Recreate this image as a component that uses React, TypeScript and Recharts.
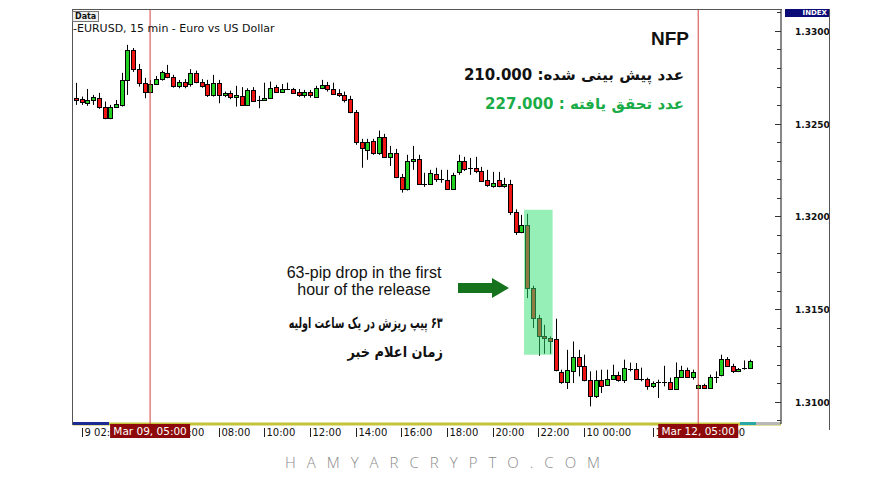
import React from "react";
import { ComposedChart, Bar, XAxis, YAxis, ReferenceLine, ReferenceArea } from "recharts";

// EURUSD 15 min, Mar 09 (NFP) -> Mar 12
const opens = [
  1.32639, 1.32632, 1.32614, 1.32628, 1.32637, 1.32592, 1.32529, 1.32592, 1.32601, 1.32736,
  1.32898, 1.32794, 1.32721, 1.32671, 1.32713, 1.3274, 1.32772, 1.32754, 1.32704, 1.32723,
  1.32713, 1.32775, 1.32723, 1.32714, 1.32655, 1.32721, 1.32653, 1.32664, 1.32646, 1.3265,
  1.32601, 1.32682, 1.32626, 1.32628, 1.3264, 1.327, 1.32673, 1.32687, 1.32689, 1.32673,
  1.32653, 1.32673, 1.32646, 1.32693, 1.32707, 1.32686, 1.32666, 1.32655, 1.32632, 1.32565,
  1.32403, 1.32359, 1.32407, 1.32341, 1.3243, 1.32322, 1.32344, 1.32211, 1.32147, 1.32296,
  1.32307, 1.32175, 1.32175, 1.32231, 1.32201, 1.32197, 1.32148, 1.32237, 1.32296, 1.3226,
  1.3226, 1.32245, 1.32197, 1.32162, 1.32194, 1.32162, 1.32173, 1.32026, 1.31913, 1.31954,
  1.31613, 1.31451, 1.31356, 1.31344, 1.31338, 1.31158, 1.31104, 1.31164, 1.31241, 1.31194,
  1.31119, 1.31032, 1.31119, 1.31092, 1.31123, 1.31146, 1.31119, 1.31177, 1.31177, 1.31123,
  1.31123, 1.31083, 1.31104, 1.31104, 1.31104, 1.3107, 1.31133, 1.31169, 1.31133, 1.31074,
  1.31092, 1.31074, 1.31133, 1.31146, 1.3123, 1.31194, 1.31164, 1.31182, 1.31182,
];
const highs = [
  1.3272, 1.32646, 1.32687, 1.32655, 1.32666, 1.32619, 1.32601, 1.32628, 1.32774, 1.32925,
  1.32908, 1.32822, 1.32747, 1.32736, 1.32757, 1.32786, 1.32817, 1.32763, 1.32736, 1.3274,
  1.32794, 1.32786, 1.3274, 1.32736, 1.32763, 1.32736, 1.32673, 1.32678, 1.32704, 1.32697,
  1.32691, 1.32697, 1.3265, 1.32721, 1.32727, 1.32709, 1.32714, 1.32721, 1.32693, 1.32687,
  1.32682, 1.32682, 1.32704, 1.32736, 1.32725, 1.32721, 1.32686, 1.32673, 1.3265, 1.32574,
  1.32418, 1.32418, 1.32418, 1.32463, 1.32445, 1.3238, 1.32364, 1.32229, 1.32332, 1.3238,
  1.32332, 1.32235, 1.32251, 1.32262, 1.32251, 1.32251, 1.32235, 1.32332, 1.32321, 1.32315,
  1.32321, 1.32267, 1.32251, 1.3224, 1.3224, 1.32208, 1.32197, 1.32038, 1.32008, 1.32014,
  1.31626, 1.31469, 1.31415, 1.31352, 1.31448, 1.31173, 1.3128, 1.31325, 1.3128, 1.31254,
  1.31164, 1.31169, 1.31173, 1.31173, 1.312, 1.31162, 1.31227, 1.31211, 1.31209, 1.31184,
  1.3113, 1.3111, 1.31119, 1.31194, 1.3113, 1.31212, 1.31194, 1.31184, 1.31173, 1.31097,
  1.31097, 1.31146, 1.31164, 1.31254, 1.31241, 1.31205, 1.31182, 1.31223, 1.31227,
];
const lows = [
  1.32601, 1.32601, 1.32596, 1.32601, 1.3258, 1.32524, 1.32524, 1.32585, 1.32592, 1.32655,
  1.32779, 1.327, 1.32637, 1.32664, 1.32709, 1.32732, 1.32745, 1.32694, 1.32691, 1.32691,
  1.327, 1.32718, 1.32694, 1.32644, 1.32646, 1.3261, 1.32643, 1.32632, 1.32592, 1.32596,
  1.32596, 1.32621, 1.32583, 1.32624, 1.32637, 1.32667, 1.32667, 1.32682, 1.3266, 1.32644,
  1.3264, 1.3264, 1.3264, 1.32686, 1.32673, 1.32655, 1.32644, 1.32614, 1.32556, 1.32386,
  1.32262, 1.32305, 1.32332, 1.32332, 1.32315, 1.32272, 1.32206, 1.32128, 1.32139, 1.32251,
  1.3217, 1.32159, 1.3217, 1.32186, 1.32181, 1.32143, 1.32143, 1.32224, 1.32245, 1.32224,
  1.32233, 1.32186, 1.32159, 1.32154, 1.32157, 1.32154, 1.32008, 1.319, 1.31909, 1.31559,
  1.31398, 1.31248, 1.31259, 1.31259, 1.31164, 1.31097, 1.31069, 1.31101, 1.31137, 1.3111,
  1.30975, 1.3102, 1.31047, 1.31086, 1.31119, 1.31108, 1.31101, 1.31164, 1.31119, 1.3111,
  1.31065, 1.31074, 1.3102, 1.31083, 1.31065, 1.31065, 1.31128, 1.31128, 1.31119, 1.31069,
  1.31069, 1.31069, 1.31101, 1.31137, 1.31191, 1.31155, 1.3116, 1.31173, 1.31177,
];
const closes = [
  1.32628, 1.32617, 1.32628, 1.32643, 1.32592, 1.32529, 1.32592, 1.32605, 1.32736, 1.32898,
  1.32794, 1.32721, 1.32671, 1.32713, 1.3274, 1.32781, 1.32754, 1.32704, 1.32723, 1.32705,
  1.32772, 1.32723, 1.32704, 1.32655, 1.32721, 1.32655, 1.32664, 1.32643, 1.32657, 1.32601,
  1.32682, 1.32624, 1.32626, 1.3264, 1.32691, 1.32671, 1.32686, 1.32687, 1.32667, 1.32653,
  1.32673, 1.32653, 1.32693, 1.32707, 1.32686, 1.3266, 1.32655, 1.3263, 1.32563, 1.32403,
  1.32368, 1.32403, 1.32341, 1.3243, 1.32322, 1.32344, 1.32211, 1.32147, 1.32296, 1.3231,
  1.32177, 1.32175, 1.32233, 1.32201, 1.32201, 1.32148, 1.32224, 1.32296, 1.32255, 1.3226,
  1.32245, 1.32193, 1.32167, 1.32181, 1.32162, 1.32175, 1.32023, 1.31913, 1.31954, 1.31613,
  1.31451, 1.31352, 1.31342, 1.31325, 1.31169, 1.31104, 1.31169, 1.31241, 1.31194, 1.31119,
  1.31029, 1.31119, 1.31083, 1.31123, 1.31146, 1.31119, 1.31182, 1.31177, 1.31123, 1.31123,
  1.31083, 1.31101, 1.31104, 1.31104, 1.3107, 1.31133, 1.31169, 1.31133, 1.31158, 1.31092,
  1.31074, 1.31133, 1.31133, 1.3123, 1.31194, 1.31164, 1.31178, 1.31182, 1.31218,
];

// trading sessions shown (broker time); the second one has a few empty bars at the right
const sessions = [
  { day: 9, start: "01:45", bars: 93 },
  { day: 12, start: "01:00", bars: 31 },
];

const axisTicks = [
  "9 02:00", "9 04:00", "9 06:00", "9 08:00", "9 10:00", "9 12:00", "9 14:00",
  "9 16:00", "9 18:00", "9 20:00", "9 22:00", "10 00:00", "12 03:00", "12 05:00",
];
const axisTickText = [
  "9 02:00", "04:00", "06:00", "08:00", "10:00", "12:00", "14:00",
  "16:00", "18:00", "20:00", "22:00", "10 00:00", "12 03:00", "12 05:00",
];

const priceTicks = [
  1.309, 1.31, 1.311, 1.312, 1.313, 1.314, 1.315, 1.316, 1.317, 1.318, 1.319, 1.32,
  1.321, 1.322, 1.323, 1.324, 1.325, 1.326, 1.327, 1.328, 1.329, 1.33, 1.331,
];
const priceDomain = [1.3088, 1.33113];

const pad = (n: number) => String(n).padStart(2, "0");
const times: string[] = [];
sessions.forEach((s) => {
  const [hh, mm] = s.start.split(":").map(Number);
  for (let k = 0; k < s.bars; k++) {
    const m = hh * 60 + mm + k * 15;
    const d = s.day + Math.floor(m / 1440);
    const r = m % 1440;
    times.push(`${d} ${pad(Math.floor(r / 60))}:${pad(r % 60)}`);
  }
});

const data = times.map((t, i) => ({
  t,
  o: opens[i] ?? null,
  h: highs[i] ?? null,
  l: lows[i] ?? null,
  c: closes[i] ?? null,
}));

const BULL = "#22d022";
const BEAR = "#f01414";

function Candle(props: any) {
  const { x, y, width, height, payload } = props;
  if (!payload || payload.o == null) return null;
  const top = Math.min(y, y + height);
  const hgt = Math.abs(height);
  const { o, h, l, c } = payload;
  const k = hgt / (h - l);
  const py = (v: number) => top + (h - v) * k;
  const cx = Math.round(x + width / 2) + 0.5;
  const yo = py(o);
  const yc = py(c);
  const bt = Math.round(Math.min(yo, yc)) + 0.5;
  const bb = Math.round(Math.max(yo, yc)) + 0.5;
  return (
    <g>
      <line x1={cx} x2={cx} y1={top} y2={top + hgt} stroke="#000" strokeWidth={1} />
      {bb - bt < 1 ? (
        <line x1={cx - 2.5} x2={cx + 2.5} y1={bt} y2={bt} stroke="#000" strokeWidth={1} />
      ) : (
        <rect x={cx - 2} y={bt} width={4} height={bb - bt} fill={c >= o ? BULL : BEAR} stroke="#000" strokeWidth={1} />
      )}
    </g>
  );
}

function TimeTick({ x, y, payload }: any) {
  const idx = axisTicks.indexOf(payload.value);
  const text = idx >= 0 ? axisTickText[idx] : payload.value;
  const px = Math.round(x) + 0.5;
  return (
    <g>
      <line x1={px} x2={px} y1={y + 4} y2={y + 13} stroke="#222" />
      <text x={px + 2} y={y + 12} fontSize={10} fill="#111" fontFamily="DejaVu Sans">
        {text}
      </text>
    </g>
  );
}

function PriceTick({ x, y, payload }: any) {
  const v = payload.value;
  const major = Math.abs(v * 200 - Math.round(v * 200)) < 1e-6;
  const py = Math.round(y) + 0.5;
  return (
    <g>
      <line x1={x - (major ? 6 : 4)} x2={x} y1={py} y2={py} stroke="#333" />
      {major && (
        <text x={x + 14} y={py + 3.5} fontSize={9} fontWeight="bold" fill="#111" fontFamily="DejaVu Sans">
          {v.toFixed(4)}
        </text>
      )}
    </g>
  );
}

function LeftTick({ x, y }: any) {
  const py = Math.round(y) + 0.5;
  return <line x1={x - 1.5} x2={x + 2.5} y1={py} y2={py} stroke="#333" />;
}

function CrossLabel({ viewBox, text }: any) {
  const cx = viewBox.x;
  const by = viewBox.y + viewBox.height;
  return (
    <g>
      <rect x={cx - 40} y={by} width={80} height={14} fill="#8e0a0a" />
      <text x={cx} y={by + 11} textAnchor="middle" fontSize={10.5} fill="#fff" fontFamily="DejaVu Sans">
        {text}
      </text>
    </g>
  );
}

const abs = (s: React.CSSProperties): React.CSSProperties => ({ position: "absolute", ...s });

export default function App() {
  return (
    <div style={abs({ left: 0, top: 0, width: 885, height: 486, background: "#fff", overflow: "hidden" })}>
      <ComposedChart width={885} height={486} data={data} margin={{ top: 10, right: 0, bottom: 0, left: 73 }}>
        <XAxis
          dataKey="t"
          type="category"
          ticks={axisTicks}
          interval={0}
          height={62}
          tickSize={0}
          tickMargin={0}
          tickLine={false}
          axisLine={{ stroke: "#c4c43a", strokeWidth: 3 }}
          tick={<TimeTick />}
        />
        <YAxis
          yAxisId="l"
          orientation="left"
          type="number"
          domain={priceDomain}
          allowDataOverflow
          ticks={priceTicks}
          interval={0}
          width={0}
          tickSize={0}
          tickMargin={0}
          tickLine={false}
          axisLine={false}
          tick={<LeftTick />}
        />
        <YAxis
          yAxisId="r"
          orientation="right"
          type="number"
          domain={priceDomain}
          allowDataOverflow
          ticks={priceTicks}
          interval={0}
          width={104}
          tickSize={0}
          tickMargin={0}
          tickLine={false}
          axisLine={{ stroke: "#111" }}
          tick={<PriceTick />}
        />
        <Bar
          yAxisId="r"
          dataKey={(d: any) => (d.o == null ? null : [d.l, d.h])}
          shape={<Candle />}
          isAnimationActive={false}
        />
        <ReferenceArea
          yAxisId="r"
          x1="9 21:30"
          x2="9 22:30"
          y1={1.31254}
          y2={1.32035}
          fill="#2fe072"
          fillOpacity={0.5}
          stroke="none"
          zIndex={700}
        />
        <ReferenceLine yAxisId="r" x="9 05:00" stroke="#d64040" strokeWidth={1} zIndex={2500} label={<CrossLabel text="Mar 09, 05:00" />} />
        <ReferenceLine yAxisId="r" x="12 05:00" stroke="#d64040" strokeWidth={1} zIndex={2500} label={<CrossLabel text="Mar 12, 05:00" />} />
      </ComposedChart>

      {/* MT4 frame pieces */}
      <div style={abs({ left: 72, top: 9, width: 709, height: 415, borderTop: "1px solid #555", borderLeft: "1px solid #555", pointerEvents: "none" })} />
      <div style={abs({ left: 829, top: 9, width: 1, height: 421, background: "#555" })} />
      <div style={abs({ left: 73, top: 422, width: 36, height: 3, background: "#1c2a94" })} />
      <div style={abs({ left: 740, top: 422, width: 16, height: 3, background: "#2aa7a7" })} />
      <div style={abs({ left: 756, top: 422, width: 24, height: 3, background: "#b8b8b8" })} />
      <div style={abs({ left: 785, top: 9, width: 44, height: 8, background: "#0c0c78", color: "#fff", fontFamily: "DejaVu Sans", fontSize: 7, fontWeight: "bold", lineHeight: "8px", textAlign: "right", paddingRight: 2, boxSizing: "border-box" })}>
        INDEX
      </div>
      <div style={abs({ left: 72, top: 11, width: 27, height: 11, border: "1px solid #777", background: "#f0f0f0", boxSizing: "border-box", fontFamily: "DejaVu Sans", fontSize: 8, fontWeight: "bold", lineHeight: "9px", paddingLeft: 2, color: "#111" })}>
        Data
      </div>
      <div style={abs({ left: 73, top: 22, fontFamily: "DejaVu Sans", fontSize: 11, lineHeight: "13px", color: "#111", whiteSpace: "nowrap" })}>
        -EURUSD, 15 min - Euro vs US Dollar
      </div>

      {/* annotations */}
      <div style={abs({ right: 885 - 689, top: 28, fontFamily: "Liberation Sans", fontSize: 19, fontWeight: "bold", lineHeight: "22px", color: "#111" })}>
        NFP
      </div>
      <div dir="rtl" style={abs({ right: 885 - 684, top: 64, fontFamily: "DejaVu Sans", fontSize: 15, fontWeight: "bold", lineHeight: "22px", color: "#111", whiteSpace: "nowrap" })}>
        عدد پیش بینی شده: 210.000
      </div>
      <div dir="rtl" style={abs({ right: 885 - 684, top: 93, fontFamily: "DejaVu Sans", fontSize: 15, fontWeight: "bold", lineHeight: "22px", color: "#1aac47", whiteSpace: "nowrap" })}>
        عدد تحقق یافته : 227.000
      </div>
      <div style={abs({ left: 262, top: 264, width: 204, textAlign: "center", fontFamily: "Liberation Sans", fontSize: 16, lineHeight: "17px", color: "#111" })}>
        63-pip drop in the first
        <br />
        hour of the release
      </div>
      <svg style={abs({ left: 456, top: 276, overflow: "visible" })} width={56} height={24}>
        <polygon points="2,7 36,7 36,2 53,12 36,22 36,17 2,17" fill="#16731d" />
      </svg>
      <div dir="rtl" style={abs({ right: 885 - 443, top: 312, fontFamily: "DejaVu Sans", fontSize: 15, fontWeight: "bold", lineHeight: "22px", color: "#111", whiteSpace: "nowrap", transform: "scaleX(0.64)", transformOrigin: "right center" })}>
        ۶۳ پیپ ریزش در یک ساعت اولیه
      </div>
      <div dir="rtl" style={abs({ right: 885 - 443, top: 341, fontFamily: "DejaVu Sans", fontSize: 15, fontWeight: "bold", lineHeight: "22px", color: "#111", whiteSpace: "nowrap", transform: "scaleX(0.86)", transformOrigin: "right center" })}>
        زمان اعلام خبر
      </div>

      <div style={abs({ left: 0, top: 452, width: 885, paddingLeft: 11, boxSizing: "border-box", textAlign: "center", fontFamily: "Open Sans", fontWeight: 300, fontSize: 15, letterSpacing: 11, color: "#8a8a8a" })}>
        HAMYARCRYPTO.COM
      </div>
    </div>
  );
}
